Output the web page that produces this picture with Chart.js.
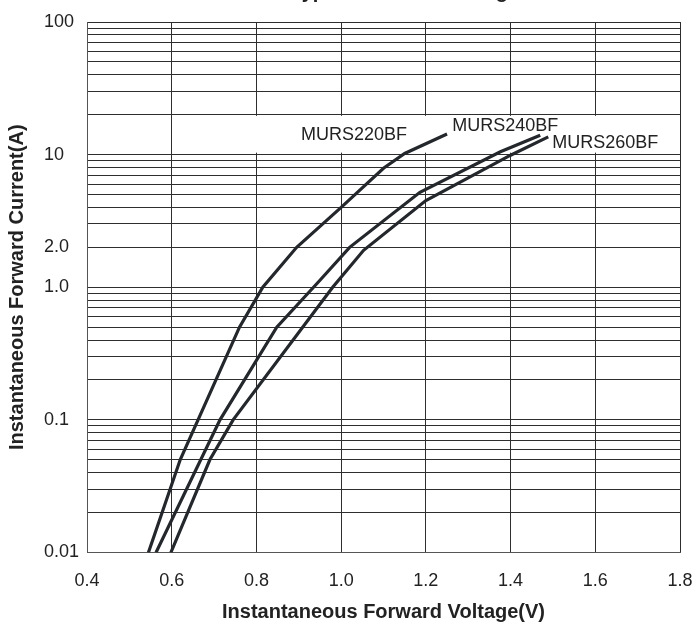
<!DOCTYPE html>
<html><head><meta charset="utf-8">
<script src="https://cdn.jsdelivr.net/npm/chart.js@4"></script>
<style>html,body{margin:0;padding:0;background:#fff}#wrap{width:696px;height:626px}</style>
</head><body><div id="wrap"><canvas id="c" width="696" height="626"></canvas></div>
<script>
// ---- data ----
const seriesNames = ['MURS220BF', 'MURS240BF', 'MURS260BF'];
const voltsA = [0.545, 0.62, 0.76, 0.815, 0.895, 1.0, 1.10, 1.15, 1.25];
const ampsA  = [0.01, 0.05, 0.5, 1.0, 2.0, 4.0, 7.9, 10.2, 14.3];
const voltsB = [0.563, 0.714, 0.848, 0.95, 1.02, 1.186, 1.376, 1.47];
const ampsB  = [0.01, 0.1, 0.5, 1.13, 2.0, 5.2, 10.5, 14.0];
const voltsC = [0.598, 0.69, 0.745, 0.98, 1.053, 1.20, 1.40, 1.489];
const ampsC  = [0.01, 0.05, 0.1, 1.0, 1.9, 4.5, 9.9, 13.6];
const xTickValues = [0.4, 0.6, 0.8, 1.0, 1.2, 1.4, 1.6, 1.8];
const xTickLabels = ['0.4', '0.6', '0.8', '1.0', '1.2', '1.4', '1.6', '1.8'];
const yLabelValues = [0.01, 0.1, 1, 2, 10, 100];
const yTickLabels = ['0.01', '0.1', '1.0', '2.0', '10', '100'];
const yGridDecades = [0.01, 0.1, 1, 10];
const yGridSteps = [1, 2, 3, 4, 5, 6, 7, 8, 9];
const titleText = 'Typical Forward Voltage Characteristics';
const xTitle = 'Instantaneous Forward Voltage(V)';
const yTitle = 'Instantaneous Forward Current(A)';

// ---- styles ----
const FONT = "'Liberation Sans', Arial, Helvetica, sans-serif";
const INK = '#222';
const GRID = '#2e2e2e';
const labelOffsets = [ {dx: -40, dy: 1, align: 'right'}, {dx: -88, dy: -9, align: 'left'}, {dx: 4, dy: 6, align: 'left'} ];

const toPts = (xs, ys) => xs.map((x, i) => ({x: x, y: ys[i]}));
const yGridValues = [];
yGridDecades.forEach(d => yGridSteps.forEach(s => yGridValues.push(+(d * s).toPrecision(6))));
yGridValues.push(100);

const annot = {
  id: 'annot',
  beforeDatasetsDraw(chart) {
    const {ctx, scales: {x, y}} = chart;
    ctx.save();
    ctx.fillStyle = '#fff';
    const x0 = x.getPixelForValue(0.605), x1 = x.getPixelForValue(1.79);
    const y0 = y.getPixelForValue(19.6), y1 = y.getPixelForValue(10.35);
    ctx.fillRect(x0, y0, x1 - x0, y1 - y0);
    ctx.restore();
  },
  afterDatasetsDraw(chart) {
    const {ctx} = chart;
    ctx.save();
    ctx.font = '18px ' + FONT;
    ctx.fillStyle = INK;
    ctx.textBaseline = 'middle';
    chart.data.datasets.forEach((ds, i) => {
      const meta = chart.getDatasetMeta(i);
      const last = meta.data[meta.data.length - 1];
      const o = labelOffsets[i];
      ctx.textAlign = o.align;
      ctx.fillText(ds.label, last.x + o.dx, last.y + o.dy);
    });
    ctx.restore();
  },
  afterDraw(chart) {
    const {ctx, chartArea: a} = chart;
    ctx.save();
    ctx.fillStyle = INK;
    ctx.font = 'bold 20px ' + FONT;
    ctx.textAlign = 'center';
    ctx.textBaseline = 'middle';
    ctx.fillText(xTitle, (a.left + a.right) / 2, 612.5);
    ctx.save();
    ctx.translate(17, (a.top + a.bottom) / 2);
    ctx.rotate(-Math.PI / 2);
    ctx.fillText(yTitle, 0, 0);
    ctx.restore();
    ctx.textAlign = 'left';
    ctx.textBaseline = 'alphabetic';
    ctx.fillText(titleText, 291, -2.5);
    ctx.restore();
  }
};

const mkDs = (name, pts) => ({
  label: name, data: pts, borderColor: '#24282c', borderWidth: 3.2,
  pointRadius: 0, tension: 0, fill: false
});

new Chart(document.getElementById('c'), {
  type: 'line',
  data: {
    datasets: [
      mkDs(seriesNames[0], toPts(voltsA, ampsA)),
      mkDs(seriesNames[1], toPts(voltsB, ampsB)),
      mkDs(seriesNames[2], toPts(voltsC, ampsC))
    ]
  },
  options: {
    responsive: false,
    devicePixelRatio: 1,
    animation: false,
    layout: {padding: {left: 44, right: 16, top: 22, bottom: 0}},
    plugins: {legend: {display: false}, tooltip: {enabled: false}, title: {display: false}},
    scales: {
      x: {
        type: 'linear', min: 0.4, max: 1.8,
        afterBuildTicks: s => { s.ticks = xTickValues.map(v => ({value: v})); },
        afterFit: s => { s.height = 73.5; s.paddingLeft = 0; s.paddingRight = 0; },
        grid: {color: GRID, lineWidth: 1, drawTicks: false},
        border: {color: '#555', width: 1},
        ticks: {
          autoSkip: false, maxRotation: 0, padding: 18, color: INK,
          font: {family: FONT, size: 18},
          callback: (v, i) => xTickLabels[i]
        }
      },
      y: {
        type: 'logarithmic', min: 0.01, max: 100,
        afterBuildTicks: s => { s.ticks = yGridValues.map(v => ({value: v})); },
        afterFit: s => { s.width = 43; s.paddingTop = 0; s.paddingBottom = 0; },
        grid: {color: GRID, lineWidth: 1, drawTicks: false},
        border: {color: '#555', width: 1},
        ticks: {
          autoSkip: false, crossAlign: 'far', color: INK,
          font: {family: FONT, size: 18},
          callback: (v) => {
            const k = yLabelValues.findIndex(t => Math.abs(t - v) / t < 1e-6);
            return k >= 0 ? yTickLabels[k] : '';
          }
        }
      }
    }
  },
  plugins: [annot]
});
</script>
</body></html>
